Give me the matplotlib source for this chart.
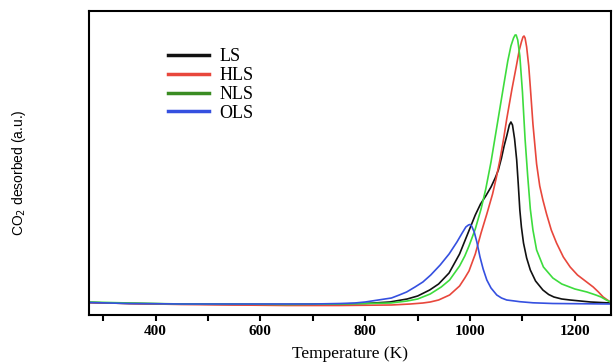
import matplotlib.pyplot as plt
import numpy as np
from matplotlib.lines import Line2D

# temperature (K) and CO2 signal (a.u.)
t_ls = [272, 350, 450, 550, 650, 750, 800, 847, 880, 900, 923, 940, 960, 980, 990, 1000,
        1010, 1020, 1030, 1040, 1048, 1054, 1060, 1065, 1070, 1075, 1078, 1081, 1085,
        1089, 1092, 1095, 1098, 1102, 1108, 1115, 1125, 1139, 1150, 1160, 1175, 1191,
        1230, 1268]
v_ls = [1.5, 0.5, 0, -0.5, -0.5, 0, 0.5, 2, 5, 8, 14, 20, 31, 50, 63, 76,
        89, 100, 108, 117, 126, 134, 146, 158, 168, 179, 182, 179, 165,
        144, 120, 94, 77, 61, 46, 34, 23, 14, 9.5, 7, 5, 4,
        2, 1]

t_hls = [272, 350, 450, 550, 650, 750, 850, 886, 910, 924, 940, 961, 980, 990, 998,
         1010, 1021, 1032, 1043, 1050, 1057, 1064, 1070, 1080, 1088, 1094, 1098, 1101,
         1103, 1105, 1108, 1112, 1115, 1120, 1127, 1133, 1139, 1146, 1155, 1165, 1178,
         1191, 1205, 1215, 1225, 1235, 1245, 1254, 1262, 1268]
v_hls = [1.5, 0.5, -0.5, -1, -1.5, -1.5, -1, 0, 1, 2, 4, 9, 18, 26, 33,
         50, 71, 90, 110, 126, 144, 165, 185, 215, 237, 254, 262, 267,
         268, 266, 257, 238, 217, 180, 140, 118, 104, 90, 74, 61, 47,
         37, 29, 25, 21, 17, 12, 7, 4, 2]

t_nls = [272, 350, 450, 550, 650, 750, 849, 880, 900, 924, 945, 961, 980, 990, 998,
         1010, 1021, 1030, 1040, 1052, 1064, 1072, 1078, 1083, 1086, 1088, 1091, 1095,
         1100, 1105, 1110, 1115, 1120, 1127, 1140, 1158, 1175, 1200, 1223, 1240, 1250,
         1260, 1268]
v_nls = [2, 1, 0, 0, -0.5, 0, 1, 3, 5, 10, 17, 24, 38, 48, 58,
         75, 95, 115, 142, 180, 218, 243, 258, 266, 269, 269, 264, 248,
         212, 165, 128, 95, 74, 54, 37, 26, 20, 15, 12, 9, 7,
         4, 2]

t_ols = [272, 350, 450, 550, 650, 700, 752, 780, 800, 825, 850, 865, 879, 895, 910,
         925, 943, 960, 975, 985, 992, 997, 1000, 1003, 1008, 1013, 1019, 1025, 1032,
         1040, 1051, 1060, 1070, 1085, 1095, 1120, 1158, 1268]
v_ols = [1.5, 0.5, 0, 0, 0, 0, 0.5, 1, 2, 4, 6, 9, 12, 17, 22,
         29, 39, 50, 62, 71, 77, 79, 79.5, 78, 72, 62, 47, 35, 24,
         16, 9, 6, 4, 3, 2.3, 1.2, 0.5, 0]

names = ['LS', 'HLS', 'NLS', 'OLS']
colors = ['#111111', '#e8473c', '#3ddc3d', '#3550e0']
legend_colors = ['#111111', '#e8473c', '#3a8c22', '#3550e0']

fig = plt.figure(figsize=(6.13, 3.62), dpi=100)
ax = fig.add_axes([88.5 / 613, 47 / 362, 522 / 613, 304 / 362])

for t, v, c in zip([t_ls, t_hls, t_nls, t_ols], [v_ls, v_hls, v_nls, v_ols], colors):
    ax.plot(t, v, color=c, lw=1.2)

ax.set_xlim(272, 1268)
ax.set_ylim(-11, 293)
ax.set_yticks([])
ax.set_xticks([400, 600, 800, 1000, 1200])
ax.set_xticks(np.arange(300, 1300, 100), minor=True)
ax.tick_params(axis='x', which='both', direction='out', length=4, width=1.5, pad=3)
for lab in ax.get_xticklabels():
    lab.set_family('Liberation Serif')
    lab.set_fontweight('bold')
    lab.set_fontsize(11)
for s in ax.spines.values():
    s.set_linewidth(1.5)

ax.set_xlabel('Temperature (K)', family='Liberation Serif', fontsize=12.5, labelpad=6)
ax.set_ylabel('CO$_2$ desorbed (a.u.)', family='Liberation Sans', fontsize=10)
ax.yaxis.set_label_coords(-0.116, 0.467)

handles = [Line2D([], [], color=c, lw=2.5) for c in legend_colors]
ax.legend(handles, names, loc='upper left', bbox_to_anchor=(0.152, 0.877), frameon=False,
          borderpad=0, borderaxespad=0,
          prop={'family': 'Liberation Serif', 'size': 13}, handlelength=2.3,
          handletextpad=0.55, labelspacing=0.1)

fig.savefig('out.png', dpi=100)
